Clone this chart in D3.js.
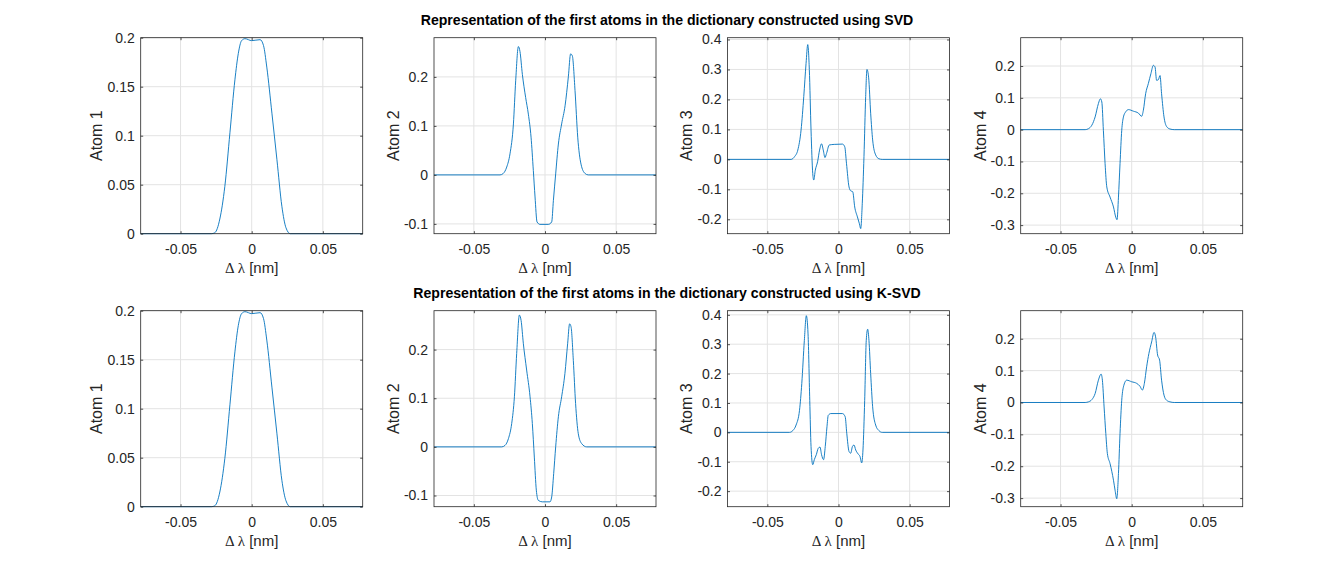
<!DOCTYPE html>
<html>
<head>
<meta charset="utf-8">
<script src="https://cdn.jsdelivr.net/npm/d3@7"></script>
<style>
  body { margin: 0; background: #fff; }
  svg { display: block; font-family: "Liberation Sans", Arial, sans-serif; }
</style>
</head>
<body>
<div id="chart"></div>
<script>
// ── Data: [Δλ (nm), atom value] ─────────────────────────────────────────────
const xTicks = [-0.05, 0, 0.05];
const titles = [
  "Representation of the first atoms in the dictionary constructed using SVD",
  "Representation of the first atoms in the dictionary constructed using K-SVD"
];
const atomLabels = ["Atom 1", "Atom 2", "Atom 3", "Atom 4"];

const svdAtom1 = [[-0.078,0],[-0.0283,0],[-0.0259,0.001],[-0.0224,0.015],[-0.0189,0.048],[-0.0153,0.103],
  [-0.0118,0.157],[-0.0094,0.184],[-0.0071,0.197],[-0.0047,0.199],[0,0.197],[0.0059,0.198],[0.0083,0.192],
  [0.0106,0.170],[0.0142,0.123],[0.0177,0.076],[0.0212,0.028],[0.0241,0.006],[0.0271,0],[0.078,0]];
const svdAtom2 = [[-0.078,0],[-0.0316,0],[-0.0293,0.003],[-0.0269,0.016],[-0.0246,0.043],[-0.0222,0.104],
  [-0.0206,0.192],[-0.0187,0.262],[-0.0176,0.252],[-0.0159,0.205],[-0.0136,0.158],[-0.0117,0.124],
  [-0.0098,0.077],[-0.0082,0.009],[-0.0070,-0.045],[-0.0056,-0.096],[-0.0035,-0.101],[0.0023,-0.101],
  [0.0047,-0.096],[0.0059,-0.052],[0.0075,0.002],[0.0094,0.063],[0.0117,0.104],[0.0141,0.141],
  [0.0164,0.200],[0.0180,0.247],[0.0192,0.243],[0.0211,0.172],[0.0230,0.077],[0.0253,0.022],
  [0.0281,0.003],[0.0304,0],[0.078,0]];
const svdAtom3 = [[-0.078,0],[-0.0333,0],[-0.0309,0.009],[-0.0286,0.031],[-0.0263,0.098],[-0.0244,0.210],
  [-0.0228,0.320],[-0.0216,0.383],[-0.0205,0.300],[-0.0193,0.098],[-0.0181,-0.047],[-0.0174,-0.069],
  [-0.0163,-0.036],[-0.0147,-0.008],[-0.0133,0.031],[-0.0119,0.052],[-0.0107,0.031],[-0.0095,0.006],
  [-0.0084,0.020],[-0.0065,0.048],[-0.0030,0.050],[0.0028,0.051],[0.0044,0.042],[0.0056,-0.013],
  [0.0074,-0.092],[0.0086,-0.105],[0.0100,-0.108],[0.0114,-0.159],[0.0133,-0.192],[0.0147,-0.215],
  [0.0156,-0.231],[0.0167,-0.148],[0.0179,0.009],[0.0191,0.210],[0.0200,0.300],[0.0212,0.272],
  [0.0226,0.154],[0.0240,0.065],[0.0261,0.015],[0.0284,0.002],[0.0307,0],[0.078,0]];
const svdAtom4 = [[-0.078,0],[-0.0327,0],[-0.0304,0.003],[-0.0280,0.014],[-0.0257,0.040],[-0.0234,0.082],
  [-0.0220,0.097],[-0.0210,0.087],[-0.0199,-0.002],[-0.0187,-0.107],[-0.0175,-0.180],[-0.0152,-0.212],
  [-0.0128,-0.243],[-0.0112,-0.275],[-0.0103,-0.283],[-0.0093,-0.212],[-0.0082,-0.107],[-0.0070,-0.002],
  [-0.0058,0.040],[-0.0042,0.056],[-0.0023,0.063],[0.0012,0.058],[0.0047,0.052],[0.0070,0.042],
  [0.0082,0.061],[0.0098,0.113],[0.0117,0.145],[0.0135,0.176],[0.0152,0.202],[0.0164,0.197],
  [0.0175,0.155],[0.0187,0.157],[0.0199,0.170],[0.0210,0.113],[0.0227,0.040],[0.0245,0.010],
  [0.0269,0.002],[0.0299,0],[0.078,0]];

const ksvdAtom1 = [[-0.078,0],[-0.0283,0],[-0.0259,0.001],[-0.0224,0.015],[-0.0189,0.049],[-0.0153,0.104],
  [-0.0118,0.158],[-0.0094,0.185],[-0.0071,0.197],[-0.0047,0.199],[0,0.197],[0.0059,0.198],[0.0083,0.192],
  [0.0106,0.170],[0.0142,0.122],[0.0177,0.075],[0.0212,0.027],[0.0241,0.006],[0.0271,0],[0.078,0]];
const ksvdAtom2 = [[-0.078,0],[-0.0304,0],[-0.0281,0.003],[-0.0257,0.017],[-0.0234,0.048],[-0.0215,0.103],
  [-0.0199,0.192],[-0.0180,0.271],[-0.0168,0.260],[-0.0152,0.212],[-0.0129,0.158],[-0.0105,0.103],
  [-0.0089,0.048],[-0.0075,-0.021],[-0.0061,-0.089],[-0.0047,-0.110],[-0.0019,-0.113],[0.0035,-0.113],
  [0.0047,-0.103],[0.0061,-0.055],[0.0075,0],[0.0094,0.062],[0.0117,0.103],[0.0140,0.151],
  [0.0159,0.212],[0.0173,0.253],[0.0183,0.247],[0.0199,0.178],[0.0215,0.089],[0.0234,0.027],
  [0.0257,0.007],[0.0293,0],[0.078,0]];
const ksvdAtom3 = [[-0.078,0],[-0.0344,0],[-0.0321,0.006],[-0.0298,0.025],[-0.0274,0.075],[-0.0258,0.166],
  [-0.0240,0.313],[-0.0226,0.397],[-0.0214,0.335],[-0.0202,0.109],[-0.0193,-0.048],[-0.0181,-0.110],
  [-0.0170,-0.093],[-0.0156,-0.076],[-0.0142,-0.054],[-0.0130,-0.050],[-0.0119,-0.076],[-0.0105,-0.093],
  [-0.0093,-0.048],[-0.0081,0.019],[-0.0072,0.058],[-0.0053,0.064],[0.0028,0.064],[0.0047,0.053],
  [0.0058,-0.003],[0.0074,-0.065],[0.0086,-0.071],[0.0098,-0.048],[0.0109,-0.043],[0.0121,-0.060],
  [0.0137,-0.073],[0.0151,-0.082],[0.0163,-0.104],[0.0172,-0.060],[0.0184,0.109],[0.0195,0.313],
  [0.0205,0.351],[0.0214,0.313],[0.0226,0.200],[0.0240,0.087],[0.0261,0.025],[0.0284,0.006],
  [0.0307,0],[0.078,0]];
const ksvdAtom4 = [[-0.078,0],[-0.0327,0],[-0.0304,0.002],[-0.0280,0.009],[-0.0257,0.028],[-0.0234,0.070],
  [-0.0215,0.089],[-0.0206,0.070],[-0.0194,-0.014],[-0.0182,-0.097],[-0.0171,-0.160],[-0.0152,-0.192],
  [-0.0128,-0.244],[-0.0117,-0.275],[-0.0105,-0.302],[-0.0093,-0.223],[-0.0082,-0.097],[-0.0070,0.007],
  [-0.0058,0.049],[-0.0035,0.070],[0,0.065],[0.0035,0.060],[0.0058,0.051],[0.0075,0.039],
  [0.0089,0.060],[0.0105,0.112],[0.0121,0.154],[0.0140,0.190],[0.0157,0.220],[0.0168,0.206],
  [0.0182,0.149],[0.0196,0.133],[0.0210,0.070],[0.0227,0.023],[0.0245,0.007],[0.0269,0.002],
  [0.0299,0],[0.078,0]];

// y limits and ticks per column, per row
const svdYLim  = [[0, 0.2], [-0.12, 0.28], [-0.248, 0.406], [-0.327, 0.289]];
const ksvdYLim = [[0, 0.2], [-0.123, 0.28], [-0.253, 0.414], [-0.327, 0.288]];
const yTicks = [
  [0, 0.05, 0.1, 0.15, 0.2],
  [-0.1, 0, 0.1, 0.2],
  [-0.2, -0.1, 0, 0.1, 0.2, 0.3, 0.4],
  [-0.3, -0.2, -0.1, 0, 0.1, 0.2]
];

// ── Layout ─────────────────────────────────────────────────────────────────
const W = 1334, H = 565;
const colLeft = [140.7, 434, 727.5, 1020.7];
const rowTop = [37.7, 310.7];
const axW = 222, axH = 196;
const lineColor = "#0072BD", axisColor = "#262626";

const svg = d3.select("#chart").append("svg").attr("width", W).attr("height", H);
svg.append("rect").attr("width", W).attr("height", H).attr("fill", "#fff");

const rows = [
  { title: titles[0], atoms: [svdAtom1, svdAtom2, svdAtom3, svdAtom4], ylim: svdYLim },
  { title: titles[1], atoms: [ksvdAtom1, ksvdAtom2, ksvdAtom3, ksvdAtom4], ylim: ksvdYLim }
];

const fmt = v => String(+v.toFixed(3));

rows.forEach((row, r) => {
  svg.append("text")
    .attr("x", W / 2).attr("y", rowTop[r] - 12.5)
    .attr("text-anchor", "middle")
    .attr("font-size", 14.1).attr("font-weight", "bold")
    .attr("fill", "#000")
    .text(row.title);

  row.atoms.forEach((data, c) => {
    const x = d3.scaleLinear().domain([-0.078, 0.078]).range([0, axW]);
    const y = d3.scaleLinear().domain(row.ylim[c]).range([axH, 0]);
    const g = svg.append("g").attr("transform", `translate(${colLeft[c]},${rowTop[r]})`);

    // grid
    g.append("g").selectAll("line").data(xTicks).join("line")
      .attr("x1", d => x(d)).attr("x2", d => x(d)).attr("y1", 0).attr("y2", axH)
      .attr("stroke", "#e3e3e3").attr("stroke-width", 1);
    g.append("g").selectAll("line").data(yTicks[c]).join("line")
      .attr("y1", d => y(d)).attr("y2", d => y(d)).attr("x1", 0).attr("x2", axW)
      .attr("stroke", "#e3e3e3").attr("stroke-width", 1);

    // curve
    g.append("path").datum(data)
      .attr("fill", "none").attr("stroke", lineColor).attr("stroke-width", 0.9)
      .attr("d", d3.line().x(d => x(d[0])).y(d => y(d[1])).curve(d3.curveMonotoneX));

    // axes (inward ticks, mirrored on the box)
    const gx = g.append("g").attr("transform", `translate(0,${axH})`)
      .call(d3.axisBottom(x).tickValues(xTicks).tickSizeInner(-2.5).tickSizeOuter(0).tickFormat(fmt));
    const gy = g.append("g")
      .call(d3.axisLeft(y).tickValues(yTicks[c]).tickSizeInner(-2.5).tickSizeOuter(0).tickFormat(fmt));
    g.append("g").call(d3.axisTop(x).tickValues(xTicks).tickSizeInner(-2.5).tickSizeOuter(0).tickFormat(""));
    g.append("g").attr("transform", `translate(${axW},0)`)
      .call(d3.axisRight(y).tickValues(yTicks[c]).tickSizeInner(-2.5).tickSizeOuter(0).tickFormat(""));
    g.selectAll(".domain").remove();
    g.selectAll(".tick line").attr("stroke", axisColor).attr("stroke-width", 0.8);
    gx.selectAll(".tick text").attr("y", 10.5).attr("dy", "0.71em");
    gy.selectAll(".tick text").attr("x", -6);
    [gx, gy].forEach(a => a.selectAll(".tick text")
      .attr("font-family", "Liberation Sans, Arial, sans-serif")
      .attr("font-size", 14).attr("fill", axisColor));

    g.append("rect").attr("width", axW).attr("height", axH)
      .attr("fill", "none").attr("stroke", axisColor).attr("stroke-width", 0.8);

    // x label
    const xl = g.append("text")
      .attr("x", axW / 2).attr("y", axH + 39)
      .attr("text-anchor", "middle").attr("font-size", 15).attr("fill", axisColor);
    xl.append("tspan").attr("font-family", "Liberation Serif, DejaVu Serif, serif").text("Δ");
    xl.append("tspan").attr("font-family", "Liberation Serif, DejaVu Serif, serif").attr("dx", 3).text("λ");
    xl.append("tspan").text(" [nm]");

    // y label, placed left of the widest tick label
    let maxW = 0;
    gy.selectAll(".tick text").each(function () {
      maxW = Math.max(maxW, this.getComputedTextLength());
    });
    g.append("text")
      .attr("transform", `translate(${-6 - maxW - 5},${axH / 2}) rotate(-90)`)
      .attr("text-anchor", "middle").attr("font-size", 16).attr("fill", axisColor)
      .text(atomLabels[c]);
  });
});
</script>
</body>
</html>
